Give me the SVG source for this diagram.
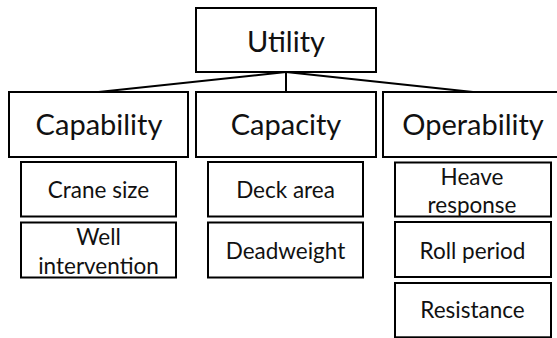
<svg xmlns="http://www.w3.org/2000/svg" width="557" height="338" viewBox="0 0 557 338">
<style>
.box{fill:#fff;stroke:#000;stroke-width:2}
.t1{font-family:Lato,"Liberation Sans",sans-serif;font-size:29px;fill:#111;text-anchor:middle}
.t2{font-family:Lato,"Liberation Sans",sans-serif;font-size:22.5px;fill:#111;text-anchor:middle}
.edge{stroke:#000;stroke-width:2;fill:none}
</style>
<rect width="557" height="338" fill="#fff"/>
<g id="connectors">
<line class="edge" x1="286" y1="72" x2="98.5" y2="92"/>
<line class="edge" x1="286" y1="72" x2="286" y2="92"/>
<line class="edge" x1="286" y1="72" x2="473" y2="92"/>
</g>
<g id="utility">
<rect class="box" x="196" y="8" width="180" height="64"/>
<text class="t1" x="286" y="52">Utility</text>
</g>
<g id="capability">
<rect class="box" x="9" y="92" width="179" height="65"/>
<text class="t1" x="99" y="134.5">Capability</text>
</g>
<g id="capacity">
<rect class="box" x="196" y="92" width="180" height="65"/>
<text class="t1" x="286" y="134.5">Capacity</text>
</g>
<g id="operability">
<rect class="box" x="383" y="92" width="180" height="65"/>
<text class="t1" x="473" y="134.5">Operability</text>
</g>
<g id="crane-size">
<rect class="box" x="21" y="162" width="155" height="54.5"/>
<text class="t2" x="98.5" y="198">Crane size</text>
</g>
<g id="well-intervention">
<rect class="box" x="21" y="222.5" width="155" height="55"/>
<text class="t2" x="98.5" y="244.5">Well</text>
<text class="t2" x="98.5" y="273.5">intervention</text>
</g>
<g id="deck-area">
<rect class="box" x="208" y="162" width="155" height="54.5"/>
<text class="t2" x="285.5" y="198">Deck area</text>
</g>
<g id="deadweight">
<rect class="box" x="208" y="222.5" width="155" height="55"/>
<text class="t2" x="285.5" y="258.5">Deadweight</text>
</g>
<g id="heave-response">
<rect class="box" x="395" y="162.5" width="156" height="54"/>
<text class="t2" x="472" y="184.5">Heave</text>
<text class="t2" x="472" y="213">response</text>
</g>
<g id="roll-period">
<rect class="box" x="395" y="222" width="156" height="55"/>
<text class="t2" x="472.5" y="258.5">Roll period</text>
</g>
<g id="resistance">
<rect class="box" x="395" y="283" width="156" height="54.3"/>
<text class="t2" x="472.5" y="318">Resistance</text>
</g>
</svg>
